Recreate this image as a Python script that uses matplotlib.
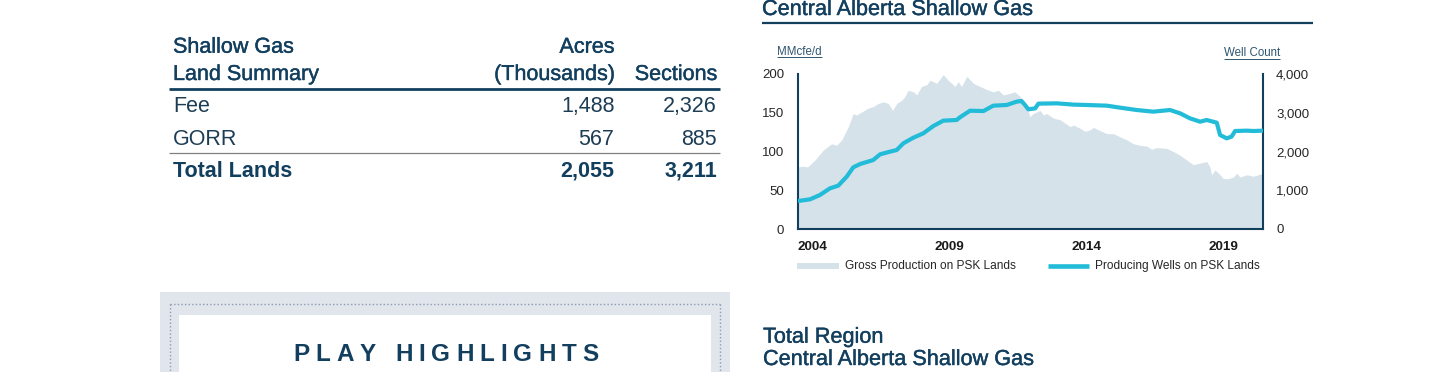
import matplotlib
matplotlib.use('Agg')
import matplotlib.pyplot as plt
import matplotlib.patheffects as pe
from matplotlib.patches import Rectangle
from matplotlib.lines import Line2D
from matplotlib.font_manager import findfont, FontProperties
from matplotlib.ft2font import FT2Font

W, H = 1440, 372
DPI = 100
plt.rcParams['font.family'] = ['Liberation Sans', 'DejaVu Sans']

NAVY = '#133f5f'
CYAN = '#22bcd9'
AREA = '#d5e2ea'
GRAYTXT = '#262626'

# ---------------- data ----------------
prod_years = [2004.00, 2004.19, 2004.35, 2004.44, 2004.62, 2004.93, 2005.23, 2005.41, 2005.60,
              2005.84, 2006.02, 2006.14, 2006.33, 2006.57, 2006.75, 2006.94, 2007.12, 2007.30,
              2007.46, 2007.61, 2007.79, 2007.91, 2008.03, 2008.22, 2008.34, 2008.52, 2008.70,
              2008.83, 2009.07, 2009.31, 2009.49, 2009.74, 2009.86, 2009.98, 2010.17, 2010.41,
              2010.65, 2010.90, 2011.14, 2011.32, 2011.51, 2011.75, 2011.93, 2012.12, 2012.30,
              2012.48, 2012.60, 2012.85, 2012.97, 2013.09, 2013.34, 2013.58, 2013.95, 2014.07,
              2014.31, 2014.49, 2014.68, 2014.80, 2015.04, 2015.29, 2015.53, 2015.77, 2016.02,
              2016.26, 2016.50, 2016.75, 2016.93, 2017.11, 2017.48, 2017.72, 2017.97, 2018.21,
              2018.45, 2018.70, 2018.94, 2019.06, 2019.12, 2019.25, 2019.43, 2019.55, 2019.73,
              2019.92, 2020.04, 2020.16, 2020.41, 2020.65, 2020.83, 2021.00]
prod_vals = [80, 81, 80, 83, 89, 102, 110, 108, 115,
             132, 149, 147, 151, 156, 158, 162, 164, 162,
             153, 162, 166, 171, 179, 177, 173, 184, 186,
             192, 188, 199, 192, 184, 190, 184, 197, 188,
             184, 180, 177, 179, 173, 175, 177, 171, 163,
             145, 149, 153, 147, 149, 143, 141, 132, 134,
             130, 126, 128, 131, 127, 123, 123, 119, 115,
             110, 108, 107, 103, 105, 104, 100, 95, 89,
             83, 85, 87, 80, 70, 76, 70, 65, 65,
             67, 72, 67, 70, 68, 70, 72]

well_years = [2004.00, 2004.44, 2004.80, 2005.17, 2005.47, 2005.78, 2006.02, 2006.27, 2006.75,
              2007.00, 2007.36, 2007.61, 2007.85, 2008.22, 2008.58, 2008.95, 2009.31, 2009.80,
              2009.92, 2010.29, 2010.78, 2011.14, 2011.63, 2011.99, 2012.17, 2012.30, 2012.42,
              2012.67, 2012.79, 2013.46, 2014.07, 2014.56, 2015.29, 2015.77, 2016.38, 2016.99,
              2017.60, 2017.97, 2018.33, 2018.70, 2018.94, 2019.31, 2019.43, 2019.67, 2019.85,
              2019.98, 2020.41, 2020.65, 2021.00]
well_vals = [722, 766, 877, 1050, 1118, 1350, 1591, 1677, 1780,
             1927, 1995, 2039, 2211, 2357, 2469, 2658, 2796, 2813,
             2882, 3053, 3044, 3183, 3200, 3286, 3303, 3200, 3088,
             3113, 3235, 3243, 3210, 3200, 3183, 3132, 3071, 3028,
             3071, 2985, 2856, 2769, 2813, 2744, 2426, 2340, 2383,
             2529, 2538, 2529, 2538]

x_ticks = [2004, 2009, 2014, 2019]
x_tick_labels = ['2004', '2009', '2014', '2019']
left_ticks = [0, 50, 100, 150, 200]
right_ticks = [0, 1000, 2000, 3000, 4000]

table_head_left = ['Shallow Gas', 'Land Summary']
table_head_acres = ['Acres', '(Thousands)']
table_head_sections = 'Sections'
table_rows = ['Fee', 'GORR', 'Total Lands']
table_acres = ['1,488', '567', '2,055']
table_sections = ['2,326', '885', '3,211']

legend_labels = ['Gross Production on PSK Lands', 'Producing Wells on PSK Lands']

# ---------------- figure ----------------
fig = plt.figure(figsize=(W / DPI, H / DPI), dpi=DPI)
fig.patch.set_facecolor('white')

MED = [pe.withStroke(linewidth=0.3, foreground=NAVY)]


def fx(px):
    return px / W


def fy(py):
    return 1 - py / H


def hline(x0, x1, y, **kw):
    fig.add_artist(Line2D([fx(x0), fx(x1)], [fy(y), fy(y)], **kw))


def vline(x, y0, y1, **kw):
    fig.add_artist(Line2D([fx(x), fx(x)], [fy(y0), fy(y1)], **kw))


# ---------------- table ----------------
TFS = 15.5
hd = dict(fontsize=TFS, color=NAVY, va='baseline', path_effects=MED)
fig.text(fx(173), fy(52.7), table_head_left[0], ha='left', **hd)
fig.text(fx(173), fy(80), table_head_left[1], ha='left', **hd)
fig.text(fx(614.5), fy(52.7), table_head_acres[0], ha='right', **hd)
fig.text(fx(614.5), fy(80), table_head_acres[1], ha='right', **hd)
fig.text(fx(717), fy(80), table_head_sections, ha='right', **hd)
hline(169, 720, 88.5, color=NAVY, lw=2.0, solid_capstyle='butt')
row_base = [112.4, 145.0, 176.8]
for i, (r, a, s) in enumerate(zip(table_rows, table_acres, table_sections)):
    fw = 'bold' if i == 2 else 'normal'
    col = NAVY if i == 2 else '#1d3d55'
    fig.text(fx(173), fy(row_base[i]), r, fontsize=TFS, color=col, va='baseline', ha='left', fontweight=fw)
    fig.text(fx(614.5), fy(row_base[i]), a, fontsize=TFS, color=col, va='baseline', ha='right', fontweight=fw)
    fig.text(fx(717), fy(row_base[i]), s, fontsize=TFS, color=col, va='baseline', ha='right', fontweight=fw)
hline(169, 720, 153, color='#808080', lw=0.9, solid_capstyle='butt')

# ---------------- title ----------------
fig.text(fx(762), fy(15), 'Central Alberta Shallow Gas', fontsize=15.6, color=NAVY, va='baseline',
         ha='left', path_effects=MED)
hline(762, 1313, 22.6, color=NAVY, lw=1.6, solid_capstyle='butt')

# ---------------- chart ----------------
ax = fig.add_axes([fx(798), fy(229), (1263 - 798) / W, (229 - 74) / H])
ax.fill_between(prod_years, prod_vals, 0, color=AREA, lw=0, zorder=1)
ax.set_xlim(2004, 2021)
ax.set_ylim(0, 200)
ax.set_facecolor('none')
ax2 = ax.twinx()
ax2.plot(well_years, well_vals, color=CYAN, lw=3.0, solid_joinstyle='round', solid_capstyle='butt', zorder=3)
ax2.set_ylim(0, 4000)

for a in (ax, ax2):
    a.spines['top'].set_visible(False)
    for sp in ('left', 'right', 'bottom'):
        a.spines[sp].set_color(NAVY)
        a.spines[sp].set_linewidth(1.5)
ax.spines['right'].set_visible(False)
ax2.spines['left'].set_visible(False)
ax2.spines['bottom'].set_visible(False)

ax.set_yticks(left_ticks)
ax.set_yticklabels([f'{v:d}' for v in left_ticks])
ax.tick_params(axis='y', length=0, pad=10, labelsize=9.5, labelcolor=GRAYTXT)
ax2.set_yticks(right_ticks)
ax2.set_yticklabels([f'{v:,d}' for v in right_ticks])
ax2.tick_params(axis='y', length=0, pad=9.4, labelsize=9.5, labelcolor=GRAYTXT)
ax.set_xticks(x_ticks)
ax.set_xticklabels(x_tick_labels, fontweight='bold', ha='left')
ax.tick_params(axis='x', length=0, pad=8.6, labelsize=9.7, labelcolor='#1a1a1a')

# axis unit labels with underline
renderer = fig.canvas.get_renderer()
t1 = fig.text(fx(777), fy(55), 'MMcfe/d', fontsize=8.3, color='#2e5570', va='baseline', ha='left')
t2 = fig.text(fx(1280), fy(56.5), 'Well Count', fontsize=8.3, color='#2e5570', va='baseline', ha='right')
for t, base in ((t1, 55), (t2, 56.5)):
    bb = t.get_window_extent(renderer)
    hline(bb.x0, bb.x1, base + 2.0, color='#2e5570', lw=0.7, solid_capstyle='butt')

# legend
fig.add_artist(Rectangle((fx(797), fy(269)), fx(839 - 797), (269 - 263) / H, color=AREA, lw=0))
fig.text(fx(845), fy(269.4), legend_labels[0], fontsize=8.6, color=GRAYTXT, va='baseline', ha='left')
hline(1048, 1089, 266, color=CYAN, lw=3.3, solid_capstyle='butt')
fig.text(fx(1095), fy(269.4), legend_labels[1], fontsize=8.6, color=GRAYTXT, va='baseline', ha='left')

# ---------------- play highlights box ----------------
fig.add_artist(Rectangle((fx(160), fy(372)), fx(730 - 160), (372 - 292) / H, color='#e1e5ec', lw=0))
fig.add_artist(Rectangle((fx(178.5), fy(372)), fx(711 - 178.5), (372 - 315) / H, color='white', lw=0))
dot = dict(color='#8e9cb0', lw=1.0, linestyle=(0, (1, 1.6)))
hline(170, 719.5, 303.5, **dot)
vline(170, 303.5, 372, **dot)
vline(719.5, 303.5, 372, **dot)

ph_text = 'PLAY HIGHLIGHTS'
ph_size = 17.5
ph_prop = FontProperties(family='Liberation Sans', weight='bold', size=ph_size)
ft = FT2Font(findfont(ph_prop))
ft.set_size(ph_size, DPI)
advs = []
for ch in ph_text:
    g = ft.load_char(ord(ch))
    advs.append(g.linearHoriAdvance / 65536.0)
spacing = 6.0
total = sum(advs) + spacing * (len(ph_text) - 1)
xpos = 446 - total / 2
for ch, adv in zip(ph_text, advs):
    if ch != ' ':
        fig.text(fx(xpos), fy(361), ch, fontproperties=ph_prop, color=NAVY, va='baseline', ha='left')
    xpos += adv + spacing

# ---------------- bottom right heading ----------------
fig.text(fx(763), fy(342.7), 'Total Region', fontsize=15.6, color=NAVY, va='baseline', ha='left',
         path_effects=MED)
fig.text(fx(763), fy(365), 'Central Alberta Shallow Gas', fontsize=15.6, color=NAVY, va='baseline',
         ha='left', path_effects=MED)

fig.savefig('out.png', dpi=DPI, facecolor='white')
